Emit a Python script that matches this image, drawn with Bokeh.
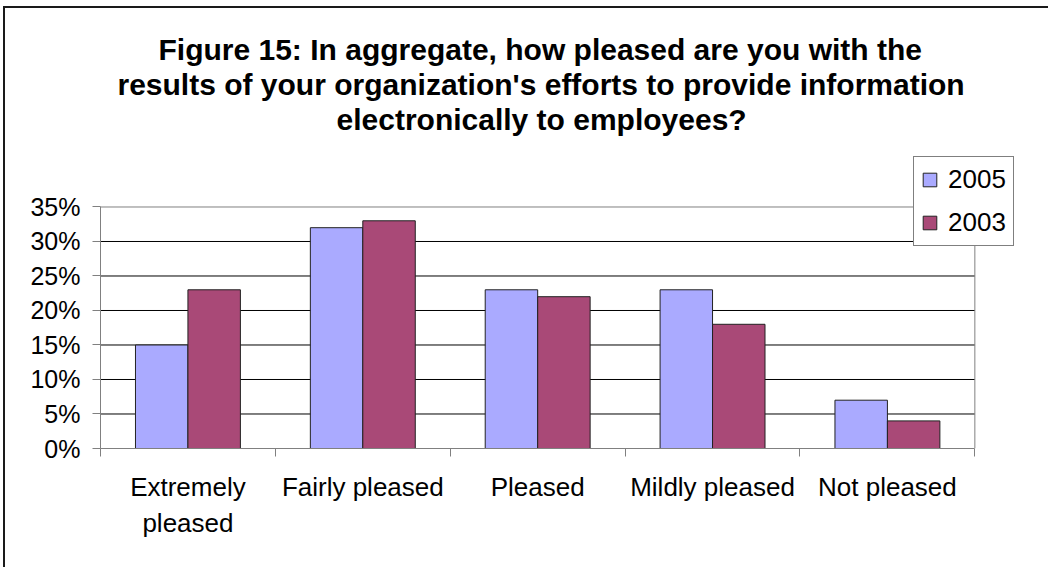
from bokeh.plotting import figure
from bokeh.models import (FixedTicker, NumeralTickFormatter, Title, Legend,
                          LegendItem, Range1d, ColumnDataSource)
from bokeh.embed import file_html
from bokeh.resources import INLINE

# ---- data ----
categories = ["Extremely pleased", "Fairly pleased", "Pleased",
              "Mildly pleased", "Not pleased"]
category_labels = ["Extremely\npleased", "Fairly pleased", "Pleased",
                   "Mildly pleased", "Not pleased"]
series_names = ["2005", "2003"]
values_2005 = [0.15, 0.32, 0.23, 0.23, 0.07]
values_2003 = [0.23, 0.33, 0.22, 0.18, 0.04]
y_ticks = [0.0, 0.05, 0.10, 0.15, 0.20, 0.25, 0.30, 0.35]
title_lines = ["Figure 15: In aggregate, how pleased are you with the",
               "results of your organization's efforts to provide information",
               "electronically to employees?"]

# ---- styles / layout ----
FONT = "Liberation Sans"
BLUE = "#AAAAFF"
RED = "#A94977"
GRAY = "#808080"
TITLE_LEFT_OFFSETS = [58, 17, 236]   # px from plot-area left, per title line

n = len(categories)
y_max = y_ticks[-1]
centers = [i + 0.5 for i in range(n)]
bar_w = 0.3

# frame extends beyond the plot area so the legend (which overlaps the
# plot area border, as in the original) is not clipped
X_END = 5.404 * n / 5
Y_END = 0.4536

src = ColumnDataSource(dict(
    x05=[c - bar_w / 2 for c in centers],
    x03=[c + bar_w / 2 for c in centers],
    v05=values_2005, v03=values_2003, cat=categories))

p = figure(width=1045, height=561, output_backend="svg", toolbar_location=None,
           x_range=Range1d(0, X_END), y_range=Range1d(0, Y_END),
           min_border_left=95, min_border_right=5,
           min_border_top=127, min_border_bottom=121,
           background_fill_color="white", border_fill_color="white")
p.margin = (6, 0, 0, 3)
p.styles = {"border-top": "2px solid #1a1a1a", "border-left": "2px solid #1a1a1a"}

# gridlines (inside plot area only)
grid_vals = y_ticks[1:-1]
p.segment(x0=[0] * len(grid_vals), x1=[n] * len(grid_vals),
          y0=grid_vals, y1=grid_vals, line_color="black", line_width=1)
# plot-area border (top and right)
p.segment(x0=[0, n], x1=[n, n], y0=[y_max, 0], y1=[y_max, y_max],
          line_color=GRAY, line_width=1)

r05 = p.vbar(x="x05", top="v05", width=bar_w, source=src, fill_color=BLUE,
             line_color="#222222", line_width=1)
r03 = p.vbar(x="x03", top="v03", width=bar_w, source=src, fill_color=RED,
             line_color="#222222", line_width=1)

# titles (bottom line first, stacking outward)
for line, off in reversed(list(zip(title_lines, TITLE_LEFT_OFFSETS))):
    t = Title(text=line, align="left", text_font=FONT, text_font_size="30px",
              text_font_style="bold", text_color="black",
              offset=off, standoff=0)
    p.add_layout(t, "above")

# axes
p.yaxis.ticker = FixedTicker(ticks=y_ticks)
p.yaxis.formatter = NumeralTickFormatter(format="0%")
p.yaxis.bounds = (0, y_max)
p.yaxis.axis_line_color = GRAY
p.yaxis.major_tick_line_color = GRAY
p.yaxis.major_tick_out = 8
p.yaxis.major_tick_in = 0
p.yaxis.minor_tick_line_color = None
p.yaxis.major_label_standoff = 12
p.yaxis.major_label_text_font = FONT
p.yaxis.major_label_text_font_size = "25px"
p.yaxis.major_label_text_color = "black"

p.xaxis.ticker = FixedTicker(ticks=centers, minor_ticks=list(range(n + 1)))
p.xaxis.major_label_overrides = {c: lab for c, lab in zip(centers, category_labels)}
p.xaxis.bounds = (0, n)
p.xaxis.axis_line_color = GRAY
p.xaxis.major_tick_line_color = None
p.xaxis.major_tick_out = 0
p.xaxis.major_tick_in = 0
p.xaxis.minor_tick_line_color = GRAY
p.xaxis.minor_tick_out = 8
p.xaxis.minor_tick_in = 0
p.xaxis.major_label_standoff = 15
p.xaxis.major_label_text_font = FONT
p.xaxis.major_label_text_font_size = "26px"
p.xaxis.major_label_text_color = "black"
p.xaxis.major_label_text_line_height = 1.2

p.xgrid.visible = False
p.ygrid.visible = False
p.outline_line_color = None

legend = Legend(items=[LegendItem(label=series_names[0], renderers=[r05]),
                       LegendItem(label=series_names[1], renderers=[r03])],
                location=(813, 202), border_line_color="black",
                border_line_width=1, background_fill_color="white",
                background_fill_alpha=1.0,
                label_text_font=FONT, label_text_font_size="26px",
                label_text_color="black", glyph_width=17, glyph_height=17,
                label_height=26, label_standoff=10, padding=7, spacing=12,
                margin=0)
p.add_layout(legend)

open("out.html", "w").write(file_html(p, INLINE))
